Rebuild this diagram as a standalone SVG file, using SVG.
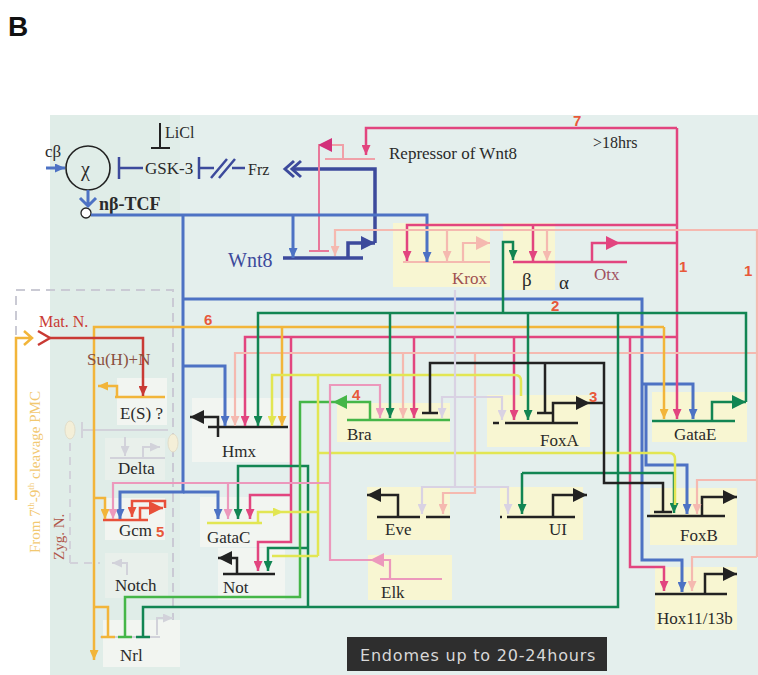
<svg xmlns="http://www.w3.org/2000/svg" width="758" height="675" viewBox="0 0 758 675">
<style>
.t{font-family:"Liberation Serif","DejaVu Serif",serif;font-size:17px;fill:#2a2a2a}
.lb{font-family:"Liberation Sans","DejaVu Sans",sans-serif;font-weight:bold;font-size:15px;fill:#e8583a}
.yb{fill:#f8f6d2}
.wb{fill:#f2f5f1}
.fb{fill:#e9f0eb}
.c{fill:none;stroke-width:2.5}
.bl{stroke:#4d72c4;stroke-width:3}
.nv{stroke:#3c4a9c;stroke-width:3.5}
.mg{stroke:#e2457f}
.lp{stroke:#f5b9b0;stroke-width:2.2}
.pk{stroke:#ec98bc;stroke-width:2.2}
.dg{stroke:#128553}
.lg{stroke:#45b648}
.ye{stroke:#e2e653}
.or{stroke:#f2b53a}
.bk{stroke:#222}
.lv{stroke:#d9d2e3;stroke-width:2.2}
.rd{stroke:#c93a34}
.ro{stroke:#e8503a}
.fa{stroke:#d2d2da;stroke-width:2}
</style>
<defs>
<marker id="s-bl" viewBox="0 0 10 9" refX="10" refY="4.5" markerWidth="10" markerHeight="9" markerUnits="userSpaceOnUse" orient="auto"><path d="M0,0L10,4.5L0,9z" fill="#4d72c4"/></marker>
<marker id="s-mg" viewBox="0 0 10 9" refX="10" refY="4.5" markerWidth="10" markerHeight="9" markerUnits="userSpaceOnUse" orient="auto"><path d="M0,0L10,4.5L0,9z" fill="#e2457f"/></marker>
<marker id="s-lp" viewBox="0 0 10 9" refX="10" refY="4.5" markerWidth="10" markerHeight="9" markerUnits="userSpaceOnUse" orient="auto"><path d="M0,0L10,4.5L0,9z" fill="#f5b9b0"/></marker>
<marker id="s-pk" viewBox="0 0 10 9" refX="10" refY="4.5" markerWidth="10" markerHeight="9" markerUnits="userSpaceOnUse" orient="auto"><path d="M0,0L10,4.5L0,9z" fill="#ec98bc"/></marker>
<marker id="s-dg" viewBox="0 0 10 9" refX="10" refY="4.5" markerWidth="10" markerHeight="9" markerUnits="userSpaceOnUse" orient="auto"><path d="M0,0L10,4.5L0,9z" fill="#128553"/></marker>
<marker id="s-ye" viewBox="0 0 10 9" refX="10" refY="4.5" markerWidth="10" markerHeight="9" markerUnits="userSpaceOnUse" orient="auto"><path d="M0,0L10,4.5L0,9z" fill="#e2e653"/></marker>
<marker id="s-or" viewBox="0 0 10 9" refX="10" refY="4.5" markerWidth="10" markerHeight="9" markerUnits="userSpaceOnUse" orient="auto"><path d="M0,0L10,4.5L0,9z" fill="#f2b53a"/></marker>
<marker id="s-lv" viewBox="0 0 10 9" refX="10" refY="4.5" markerWidth="10" markerHeight="9" markerUnits="userSpaceOnUse" orient="auto"><path d="M0,0L10,4.5L0,9z" fill="#d9d2e3"/></marker>
<marker id="s-rd" viewBox="0 0 10 9" refX="10" refY="4.5" markerWidth="10" markerHeight="9" markerUnits="userSpaceOnUse" orient="auto"><path d="M0,0L10,4.5L0,9z" fill="#c93a34"/></marker>
<marker id="s-ro" viewBox="0 0 10 9" refX="10" refY="4.5" markerWidth="10" markerHeight="9" markerUnits="userSpaceOnUse" orient="auto"><path d="M0,0L10,4.5L0,9z" fill="#e8503a"/></marker>
<marker id="s-fa" viewBox="0 0 10 9" refX="10" refY="4.5" markerWidth="10" markerHeight="9" markerUnits="userSpaceOnUse" orient="auto"><path d="M0,0L10,4.5L0,9z" fill="#d2d2da"/></marker>
<marker id="b-bk" viewBox="0 0 14 14" refX="14" refY="7" markerWidth="14" markerHeight="14" markerUnits="userSpaceOnUse" orient="auto"><path d="M0,0L14,7L0,14z" fill="#222"/></marker>
<marker id="b-nv" viewBox="0 0 14 14" refX="14" refY="7" markerWidth="14" markerHeight="14" markerUnits="userSpaceOnUse" orient="auto"><path d="M0,0L14,7L0,14z" fill="#3c4a9c"/></marker>
<marker id="b-mg" viewBox="0 0 14 14" refX="14" refY="7" markerWidth="14" markerHeight="14" markerUnits="userSpaceOnUse" orient="auto"><path d="M0,0L14,7L0,14z" fill="#e2457f"/></marker>
<marker id="b-dm" viewBox="0 0 14 14" refX="14" refY="7" markerWidth="14" markerHeight="14" markerUnits="userSpaceOnUse" orient="auto"><path d="M0,0L14,7L0,14z" fill="#d2307a"/></marker>
<marker id="b-lp" viewBox="0 0 14 14" refX="14" refY="7" markerWidth="14" markerHeight="14" markerUnits="userSpaceOnUse" orient="auto"><path d="M0,0L14,7L0,14z" fill="#f5b9b0"/></marker>
<marker id="b-pk" viewBox="0 0 14 14" refX="14" refY="7" markerWidth="14" markerHeight="14" markerUnits="userSpaceOnUse" orient="auto"><path d="M0,0L14,7L0,14z" fill="#ec98bc"/></marker>
<marker id="b-dg" viewBox="0 0 14 14" refX="14" refY="7" markerWidth="14" markerHeight="14" markerUnits="userSpaceOnUse" orient="auto"><path d="M0,0L14,7L0,14z" fill="#128553"/></marker>
<marker id="b-lg" viewBox="0 0 14 14" refX="14" refY="7" markerWidth="14" markerHeight="14" markerUnits="userSpaceOnUse" orient="auto"><path d="M0,0L14,7L0,14z" fill="#45b648"/></marker>
<marker id="b-ro" viewBox="0 0 14 14" refX="14" refY="7" markerWidth="14" markerHeight="14" markerUnits="userSpaceOnUse" orient="auto"><path d="M0,0L14,7L0,14z" fill="#e8503a"/></marker>
</defs>

<rect x="0" y="0" width="758" height="675" fill="#ffffff"/>
<rect x="50" y="115" width="708" height="560" fill="#e4efed"/>
<rect x="50" y="115" width="130" height="560" fill="#e0ede8"/>
<text x="8" y="36" font-family="Liberation Sans, DejaVu Sans, sans-serif" font-weight="bold" font-size="28" fill="#111">B</text>

<g id="pmc-box">
<path d="M16,335V290H173V620" fill="none" stroke="#cacad4" stroke-width="2" stroke-dasharray="9,6"/>
<text class="t" transform="translate(40,553) rotate(-90)" style="fill:#f2c870;font-size:15px">From 7<tspan font-size="9" dy="-6">th</tspan><tspan dy="6">-9</tspan><tspan font-size="9" dy="-6">th</tspan><tspan dy="6"> cleavage PMC</tspan></text>
<text class="t" transform="translate(64,560) rotate(-90)" style="fill:#b0564a;font-size:15px">Zyg. N.</text>
</g>

<g id="node-chi">
<circle cx="88" cy="168" r="22" fill="none" stroke="#222" stroke-width="1.6"/>
<text class="t" x="81" y="176" style="font-size:20px">χ</text>
<text class="t" x="45" y="157">cβ</text>
</g>
<g id="node-tcf">
<circle cx="86" cy="213" r="5" fill="#fff" stroke="#222" stroke-width="1.3"/>
<text class="t" x="99" y="210" style="font-size:18px;font-weight:bold">nβ-TCF</text>
</g>
<g id="node-gsk3">
<text class="t" x="145" y="174">GSK-3</text>
</g>
<g id="node-licl">
<text class="t" x="165" y="138" style="font-size:16px">LiCl</text>
<path d="M160,123V148M151,148H170" fill="none" stroke="#222" stroke-width="2"/>
</g>
<g id="node-frz">
<text class="t" x="248" y="175" style="font-size:16px">Frz</text>
</g>
<g id="node-repressor">
<text class="t" x="389" y="159">Repressor of Wnt8</text>
<path d="M325,159H375" fill="none" stroke="#f0a0a8" stroke-width="2"/>
<path d="M343,159V145H318" fill="none" stroke="#f0a0a8" stroke-width="2" marker-end="url(#b-dm)"/>
<text class="t" x="593" y="148" style="font-size:16px">&gt;18hrs</text>
</g>
<g id="node-wnt8">
<text class="t" x="228" y="267" style="font-size:20px;fill:#3c4a9c">Wnt8</text>
<path class="c nv" d="M283,258H363"/>
<path class="c nv" d="M348,258V243H375" marker-end="url(#b-nv)"/>
</g>
<g id="node-krox">
<rect class="yb" x="393" y="223" width="97" height="64"/>
<path class="c lp" d="M403,262H490"/>
<path class="c lp" d="M463,262V243H490" marker-end="url(#b-lp)"/>
<text class="t" x="452" y="284" style="fill:#a05050">Krox</text>
</g>
<g id="node-beta">
<rect class="yb" x="503" y="223" width="52" height="67"/>
<text class="t" x="522" y="286" style="font-size:19px">β</text>
</g>
<g id="node-otx">
<path class="c mg" d="M513,262H627"/>
<path class="c mg" d="M592,262V243H620" marker-end="url(#b-mg)"/>
<text class="t" x="559" y="289" style="font-size:19px">α</text>
<text class="t" x="594" y="280" style="fill:#a05060">Otx</text>
</g>
<g id="node-es">
<rect class="wb" x="117" y="378" width="50" height="47"/>
<path class="c or" d="M115,397H165"/>
<path class="c or" d="M117,397V386H98" marker-end="url(#s-or)"/>
<text class="t" x="120" y="419">E(S) ?</text>
</g>
<g id="node-delta">
<rect class="fb" x="105" y="438" width="60" height="42"/>
<path class="c fa" d="M110,458H165"/>
<path class="c fa" d="M125,437V456" marker-end="url(#s-fa)"/>
<path class="c fa" d="M143,458V447H160" marker-end="url(#s-fa)"/>
<ellipse cx="70" cy="430" rx="5" ry="9" fill="#f4efd8" stroke="#e2ddc8"/>
<ellipse cx="173" cy="443" rx="5" ry="9" fill="#f4efd8" stroke="#e2ddc8"/>
<path d="M82,430H168M82,422V438" fill="none" stroke="#d2d2da" stroke-width="2"/>
<text class="t" x="118" y="474">Delta</text>
</g>
<g id="node-gcm">
<rect class="wb" x="105" y="498" width="60" height="42"/>
<path class="c ro" d="M103,520H148"/>
<path class="c ro" d="M140,520V508H163" marker-end="url(#b-ro)"/>
<text class="t" x="119" y="536">Gcm</text>
</g>
<g id="node-notch">
<rect class="fb" x="105" y="553" width="63" height="45"/>
<path class="c fa" d="M127,575V563H112" marker-end="url(#s-fa)"/>
<text class="t" x="115" y="591">Notch</text>
</g>
<g id="node-nrl">
<rect class="wb" x="103" y="620" width="77" height="47"/>
<path class="c fa" d="M100,637H160"/>
<path class="c fa" d="M157,635V618H173" marker-end="url(#s-fa)"/>
<text class="t" x="120" y="661">Nrl</text>
</g>
<g id="node-hmx">
<rect class="wb" x="192" y="398" width="98" height="64"/>
<path class="c bk" d="M208,427H288"/>
<path class="c bk" d="M218,437V417H190" marker-end="url(#b-bk)"/>
<text class="t" x="222" y="457">Hmx</text>
</g>
<g id="node-gatac">
<rect class="wb" x="200" y="497" width="90" height="50"/>
<path class="c ye" d="M207,523H262"/>
<path class="c ye" d="M258,523V512H283" marker-end="url(#s-ye)"/>
<text class="t" x="207" y="543">GataC</text>
</g>
<g id="node-not">
<rect class="wb" x="218" y="548" width="67" height="52"/>
<path class="c bk" d="M223,574H275"/>
<path class="c bk" d="M237,574V558H218" marker-end="url(#b-bk)"/>
<text class="t" x="223" y="593">Not</text>
</g>
<g id="node-bra">
<rect class="yb" x="337" y="403" width="113" height="39"/>
<path class="c lg" d="M347,420H450"/>
<path class="c lg" d="M370,420V402H333" marker-end="url(#b-lg)"/>
<text class="t" x="347" y="440">Bra</text>
</g>
<g id="node-foxa">
<rect class="yb" x="487" y="395" width="103" height="52"/>
<path class="c bk" d="M493,423H499M505,423H578"/>
<path class="c bk" d="M553,423V403H590" marker-end="url(#b-bk)"/>
<text class="t" x="540" y="446">FoxA</text>
</g>
<g id="node-gatae">
<rect class="yb" x="652" y="392" width="95" height="50"/>
<path class="c dg" d="M652,421H735"/>
<path class="c dg" d="M712,421V402H746" marker-end="url(#b-dg)"/>
<text class="t" x="674" y="440">GataE</text>
</g>
<g id="node-eve">
<rect class="yb" x="367" y="487" width="83" height="53"/>
<path class="c bk" d="M377,517H420M426,517H450"/>
<path class="c bk" d="M398,517V495H367" marker-end="url(#b-bk)"/>
<text class="t" x="385" y="535">Eve</text>
</g>
<g id="node-ui">
<rect class="yb" x="500" y="487" width="83" height="53"/>
<path class="c bk" d="M500,517H502M507,517H575"/>
<path class="c bk" d="M553,517V495H587" marker-end="url(#b-bk)"/>
<text class="t" x="549" y="535">UI</text>
</g>
<g id="node-elk">
<rect class="yb" x="368" y="555" width="84" height="45"/>
<path class="c pk" d="M380,579H442"/>
<path class="c pk" d="M390,579V560H370" marker-end="url(#b-pk)"/>
<text class="t" x="381" y="598">Elk</text>
</g>
<g id="node-foxb">
<rect class="yb" x="650" y="488" width="87" height="57"/>
<path class="c bk" d="M647,516H725"/>
<path class="c bk" d="M702,516V497H737" marker-end="url(#b-bk)"/>
<text class="t" x="680" y="541">FoxB</text>
</g>
<g id="node-hox">
<rect class="yb" x="655" y="567" width="82" height="63"/>
<path class="c bk" d="M655,594H727"/>
<path class="c bk" d="M705,594V574H737" marker-end="url(#b-bk)"/>
<text class="t" x="657" y="624">Hox11/13b</text>
</g>

<g id="connectors">
<path class="c bl" d="M46,168H65" marker-end="url(#s-bl)"/>
<path class="c bl" d="M88,190V206M80,198L88,206L96,198"/>
<path d="M143,168H119M119,157V179" fill="none" stroke="#3c4a9c" stroke-width="2.5"/>
<path d="M214,168H199M199,157V179M232,168H245M211,178L227,159M219,178L235,159" fill="none" stroke="#3c4a9c" stroke-width="2.5"/>
<path class="c nv" d="M375,243V169H292"/>
<path d="M301,161L292,169L301,177M294,161L285,169L294,177" fill="none" stroke="#3c4a9c" stroke-width="3"/>
<path d="M319,146V251M309,251H329" fill="none" stroke="#e8789a" stroke-width="2"/>
<path class="c bl" d="M91,215H427V262" marker-end="url(#s-bl)"/>
<path class="c bl" d="M293,215V258" marker-end="url(#s-bl)"/>
<path class="c bl" d="M183,215V492H120V519" marker-end="url(#s-bl)"/>
<path class="c bl" d="M183,492H218V519" marker-end="url(#s-bl)"/>
<path class="c bl" d="M183,366H225V426" marker-end="url(#s-bl)"/>
<path class="c bl" d="M183,299H642V560H682V592" marker-end="url(#s-bl)"/>
<path class="c bl" d="M642,384H693V419" marker-end="url(#s-bl)"/>
<path class="c bl" d="M646,384V465H687V514" marker-end="url(#s-bl)"/>
<path class="c mg" d="M620,243H677"/>
<path class="c mg" d="M677,128V419" marker-end="url(#s-mg)"/>
<path class="c mg" d="M677,128H366V155" marker-end="url(#s-mg)"/>
<path class="c mg" d="M677,225H407V261" marker-end="url(#s-mg)"/>
<path class="c mg" d="M533,225V261" marker-end="url(#s-mg)"/>
<path class="c mg" d="M677,337H245V426" marker-end="url(#s-mg)"/>
<path class="c mg" d="M414,337V418" marker-end="url(#s-mg)"/>
<path class="c mg" d="M514,337V420" marker-end="url(#s-mg)"/>
<path class="c mg" d="M630,337V567H664V591" marker-end="url(#s-mg)"/>
<path class="c mg" d="M291,337V542H258V571" marker-end="url(#s-mg)"/>
<path class="c mg" d="M291,495H250V519" marker-end="url(#s-mg)"/>
<path class="c lp" d="M757,557V230H335V256" marker-end="url(#s-lp)"/>
<path class="c lp" d="M447,230V261" marker-end="url(#s-lp)"/>
<path class="c lp" d="M547,230V261" marker-end="url(#s-lp)"/>
<path class="c lp" d="M757,353H235V426" marker-end="url(#s-lp)"/>
<path class="c lp" d="M403,353V418" marker-end="url(#s-lp)"/>
<path class="c lp" d="M475,353V493H443V514" marker-end="url(#s-lp)"/>
<path class="c lp" d="M757,480H697V514" marker-end="url(#s-lp)"/>
<path class="c lp" d="M757,557H692V591" marker-end="url(#s-lp)"/>
<path class="c or" d="M664,327H94V660" marker-end="url(#s-or)"/>
<path class="c or" d="M664,327V419" marker-end="url(#s-or)"/>
<path class="c or" d="M282,327V426" marker-end="url(#s-or)"/>
<path class="c or" d="M94,498H105V519" marker-end="url(#s-or)"/>
<path class="c or" d="M94,607H108V636M101,637H115"/>
<path class="c or" d="M16,500V338H31M24,331L32,338L24,345"/>
<path class="c rd" d="M50,338H143V396" marker-end="url(#s-rd)"/>
<path class="c rd" d="M38,331L50,338L38,345"/>
<path class="c ro" d="M165,508V501H132V517" marker-end="url(#s-ro)"/>
<path class="c dg" d="M746,402V313H258V426" marker-end="url(#s-dg)"/>
<path class="c dg" d="M390,313V418" marker-end="url(#s-dg)"/>
<path class="c dg" d="M528,313V420" marker-end="url(#s-dg)"/>
<path class="c dg" d="M503,313V242H513V260" marker-end="url(#s-dg)"/>
<path class="c dg" d="M618,313V607H143V636M136,637H150"/>
<path class="c dg" d="M308,607V466H238V519" marker-end="url(#s-dg)"/>
<path class="c dg" d="M308,548H268V571" marker-end="url(#s-dg)"/>
<path class="c dg" d="M522,473H674V513" marker-end="url(#s-dg)"/>
<path class="c dg" d="M522,473V514" marker-end="url(#s-dg)"/>
<path class="c lg" d="M333,402H300V597H125V636M118,637H132"/>
<path class="c ye" d="M283,512H318"/>
<path class="c ye" d="M318,556V375H272V426" marker-end="url(#s-ye)"/>
<path class="c ye" d="M318,375H515Q521,375 521,381V396"/>
<path class="c ye" d="M318,453H669Q675,453 675,459V505"/>
<path class="c ye" d="M318,556H272"/>
<path class="c bk" d="M430,413V363H604V483H663V511M422,413H438M545,363V413M537,413H553M654,512H672M590,403H604"/>
<path class="c lv" d="M455,290V487H422V514" marker-end="url(#s-lv)"/>
<path class="c lv" d="M455,487H508V514" marker-end="url(#s-lv)"/>
<path class="c lv" d="M455,397H502V420" marker-end="url(#s-lv)"/>
<path class="c lv" d="M455,397H442V418" marker-end="url(#s-lv)"/>
<path d="M70,563V442M70,563H100" fill="none" stroke="#d2d2da" stroke-width="2" stroke-dasharray="8,6"/>
<path class="c pk" d="M370,560H330V385H380V418" marker-end="url(#s-pk)"/>
<path class="c pk" d="M330,483H113V519" marker-end="url(#s-pk)"/>
<path class="c pk" d="M228,483V519" marker-end="url(#s-pk)"/>
</g>

<g id="labels">
<text class="lb" x="573" y="126">7</text>
<text class="lb" x="679" y="272">1</text>
<text class="lb" x="744" y="276">1</text>
<text class="lb" x="551" y="311">2</text>
<text class="lb" x="204" y="325">6</text>
<text class="lb" x="589" y="402">3</text>
<text class="lb" x="352" y="400">4</text>
<text class="lb" x="156" y="537">5</text>
<text class="t" x="39" y="327" style="fill:#c93a34;font-size:16px">Mat. N.</text>
<text class="t" x="87" y="365" style="fill:#8a5040">Su(H)+N</text>
</g>

<g id="caption">
<rect x="347" y="637" width="260" height="34" fill="#2e2e2e"/>
<text x="360" y="661" font-family="DejaVu Sans, Liberation Sans, sans-serif" font-size="16" fill="#d8d8d8" letter-spacing="0.8">Endomes up to 20-24hours</text>
</g>
</svg>
